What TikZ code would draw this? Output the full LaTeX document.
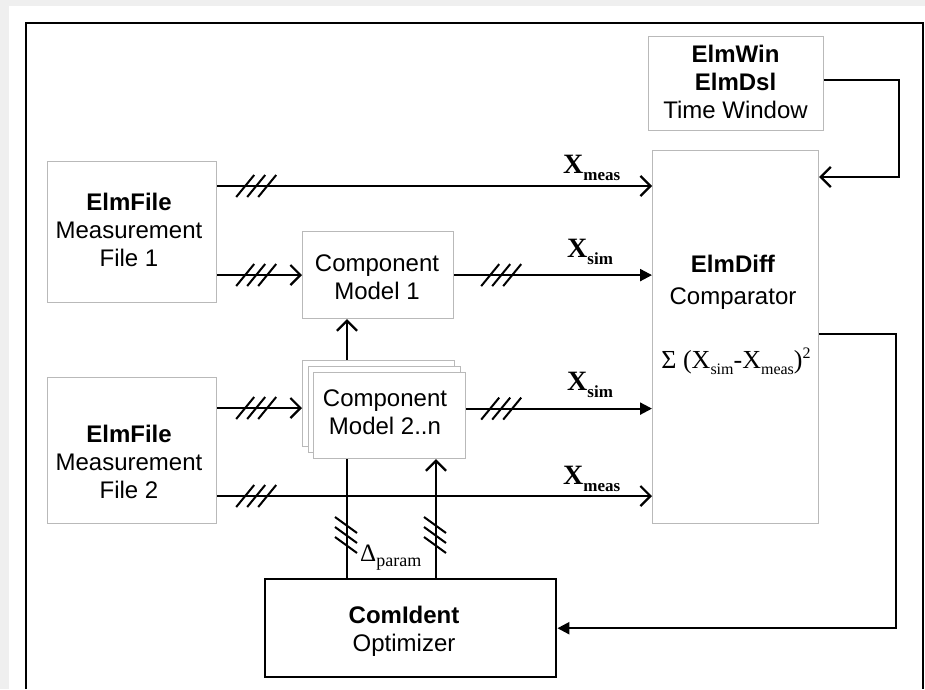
\documentclass[tikz,border=0pt]{standalone}
\usepackage{fontspec}
\setmainfont{Liberation Sans}
\newfontfamily\seriffam{Liberation Serif}
\usetikzlibrary{arrows.meta}
\definecolor{bggray}{RGB}{239,239,239}
\definecolor{boxgray}{RGB}{185,185,185}
\newcommand{\sbx}[3]{\raisebox{#1}{\fontsize{#2}{#2}\selectfont #3}}
\begin{document}
\begin{tikzpicture}[x=1pt,y=-1pt,
  box/.style={draw=boxgray,line width=1.2pt,fill=white,inner sep=0pt,anchor=north west},
  lbl/.style={font=\fontsize{24}{28}\selectfont,align=center,inner sep=0pt,anchor=north},
  sym/.style={anchor=base west,inner sep=0pt,font=\seriffam\bfseries\fontsize{28}{28}\selectfont},
  conn/.style={line width=2.2pt},
  arr/.style={conn,-{Straight Barb[length=10pt,width=20pt]}},
  arrf/.style={conn,-{Triangle[length=12pt,width=12pt]}},
  hatchh/.pic={\foreach \d in {-11,0,11} \draw[line width=2pt] (\d-9,11) -- (\d+9,-11);},
  hatchv/.pic={\foreach \d in {-10,0,10} \draw[line width=2pt] (-12,\d-8) -- (10,\d+8);},
]
\useasboundingbox (0,0) rectangle (925,689);
\fill[bggray] (0,0) rectangle (925,689);
\fill[white] (9,6) rectangle (925,689);
\draw[line width=1.8pt] (26,689) -- (26,23) -- (923,23) -- (923,689);

% boxes
\node[box,minimum width=175pt,minimum height=94pt] (win) at (648,36) {};
\node[box,minimum width=166pt,minimum height=373pt] (diff) at (652,150) {};
\node[box,minimum width=169pt,minimum height=141pt] (f1) at (47,161) {};
\node[box,minimum width=169pt,minimum height=146pt] (f2) at (47,377) {};
\node[box,minimum width=151pt,minimum height=87pt] (cm1) at (302,231) {};
\node[box,draw=black,line width=2.4pt,minimum width=291pt,minimum height=98pt] (opt) at (264,578) {};

% texts
\node[lbl] (wint) at (735.5,45) {\textbf{ElmWin}\\\textbf{ElmDsl}\\Time Window};
\node[lbl] (f1t) at (129,193) {\textbf{ElmFile}\\Measurement\\File 1};
\node[lbl] (f2t) at (129,425) {\textbf{ElmFile}\\Measurement\\File 2};
\node[lbl] (cm1t) at (377,255) {Component\\Model 1};
\node[lbl] (difft) at (733,255) {\textbf{ElmDiff}\\[4pt]Comparator};
\node[lbl] (optt) at (404,606) {\textbf{ComIdent}\\Optimizer};
\node[anchor=base,inner sep=0pt,font=\seriffam\fontsize{26}{26}\selectfont] (sigma) at (736,368)
  {Σ (X\sbx{-6pt}{16}{sim}-X\sbx{-6pt}{16}{meas})\sbx{10pt}{16}{2}};

% signal labels
\node[sym] (xm1) at (563,173) {X\sbx{-7pt}{17}{meas}};
\node[sym] (xs1) at (567,257) {X\sbx{-7pt}{17}{sim}};
\node[sym] (xs2) at (567,390) {X\sbx{-7pt}{17}{sim}};
\node[sym] (xm2) at (563,484) {X\sbx{-7pt}{17}{meas}};

% feedback from optimizer to model 1 (behind the stack)
\coordinate (v1) at ([xshift=83pt]opt.north west);
\draw[arr] (v1) -- (v1 |- cm1.south);

% stacked component models
\node[box,minimum width=152pt,minimum height=86pt] (cm2c) at (302,360) {};
\node[box,minimum width=152pt,minimum height=86pt] (cm2b) at (307.5,366) {};
\node[box,minimum width=152pt,minimum height=86pt] (cm2) at (313,372) {};
\node[lbl] (cm2t) at (385,390) {Component\\Model 2..n};

\coordinate (v2) at ([xshift=172pt]opt.north west);
\draw[arr] (v2) -- (v2 |- cm2.south);

\node[anchor=base west,inner sep=0pt,font=\seriffam\fontsize{25}{25}\selectfont] (dp) at (360,561) {Δ\sbx{-5pt}{18}{param}};

% connectors
\draw[arr] ([yshift=4pt]win.east) -- ++(75,0) |- ([yshift=-27pt]diff.north east);
\draw[arrf] ([yshift=-184pt]diff.north east) -- ++(77,0) |- (opt.east);

\coordinate (p1) at ([yshift=-25pt]f1.north east);
\coordinate (p2) at ([yshift=-114pt]f1.north east);
\coordinate (p3) at ([yshift=-31pt]f2.north east);
\coordinate (p4) at ([yshift=-119pt]f2.north east);
\coordinate (q1) at (cm1.east);
\coordinate (q2) at ([yshift=7pt]cm2.east);

\draw[arr] (p1) -- (p1 -| diff.west);
\draw[arr] (p2) -- (p2 -| cm1.west);
\draw[arrf] (q1) -- (q1 -| diff.west);
\draw[arr] (p3) -- (p3 -| cm2c.west);
\draw[arrf] (q2) -- (q2 -| diff.west);
\draw[arr] (p4) -- (p4 -| diff.west);

% bus hatches
\pic at ([xshift=39pt]p1) {hatchh};
\pic at ([xshift=39pt]p2) {hatchh};
\pic at ([xshift=39pt]p3) {hatchh};
\pic at ([xshift=39pt]p4) {hatchh};
\pic at ([xshift=47pt]q1) {hatchh};
\pic at ([xshift=35pt]q2) {hatchh};
\pic at ([yshift=43pt]v1) {hatchv};
\pic at ([yshift=43pt]v2) {hatchv};
\end{tikzpicture}
\end{document}
